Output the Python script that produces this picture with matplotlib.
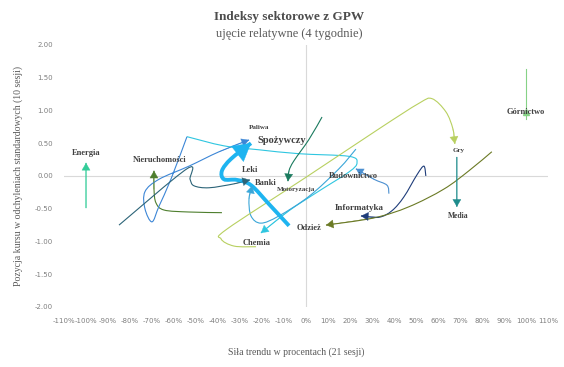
import matplotlib
matplotlib.use("Agg")
import matplotlib.pyplot as plt
from matplotlib.path import Path
from matplotlib.patches import PathPatch
from matplotlib.ticker import FuncFormatter

# --- dane (x: siła trendu w %, y: pozycja w odchyleniach std.) ---
energia_x = [-100, -100]
energia_y = [-0.49, 0.20]

nieruch_x = [-38.2, -53.2, -64.5, -68.2, -69.1, -69.1]
nieruch_y = [-0.56, -0.55, -0.52, -0.41, -0.20, 0.08]

paliwa_x = [-54.1, -61.4, -66.8, -70.0, -73.2, -73.2, -66.8, -53.2, -39.5, -25.9]
paliwa_y = [0.60, -0.05, -0.46, -0.70, -0.50, -0.24, -0.05, 0.15, 0.37, 0.55]

chemia_x = [-54.1, -37.3, -21.4, -3.2, 19.5, 23.2, 19.5, 5.9, -7.7, -20.5]
chemia_y = [0.60, 0.46, 0.40, 0.34, 0.30, 0.20, 0.06, -0.23, -0.53, -0.87]

banki_x = [22.7, 15.0, 1.4, -12.3, -20.5, -25.0, -25.9, -24.5]
banki_y = [0.41, 0.11, -0.31, -0.61, -0.72, -0.61, -0.35, -0.15]

spoz_x = [-7.7, -16.8, -25.0, -31.4, -37.3, -38.2, -34.1, -25.0]
spoz_y = [-0.76, -0.43, -0.14, -0.06, -0.05, 0.08, 0.26, 0.50]

leki_x = [-85.0, -54.1, -52.7, -50.9, -44.1, -32.7, -25.5]
leki_y = [-0.75, 0.11, -0.05, -0.15, -0.18, -0.12, -0.06]

motor_x = [7.3, 1.4, -5.5, -7.7, -8.2]
motor_y = [0.90, 0.56, 0.23, 0.08, -0.08]

budow_x = [37.7, 36.8, 30.9, 22.7]
budow_y = [-0.27, -0.14, -0.05, 0.11]

infor_x = [54.5, 53.6, 50.5, 44.5, 39.1, 33.2, 25.0]
infor_y = [0.00, 0.15, 0.02, -0.32, -0.53, -0.63, -0.61]

odziez_x = [84.5, 74.1, 62.7, 46.8, 30.9, 9.1]
odziez_y = [0.37, 0.08, -0.20, -0.47, -0.64, -0.75]

gry_x = [-22.7, -32.7, -38.6, -35.9, 0.0, 33.2, 51.4, 57.3, 63.6, 66.8, 67.7]
gry_y = [-1.08, -1.07, -0.96, -0.81, -0.02, 0.72, 1.11, 1.18, 0.98, 0.72, 0.49]

media_x = [68.6, 68.6]
media_y = [0.29, -0.47]

gornictwo_x = [100, 100]
gornictwo_y = [1.63, 0.87]

# nazwa, x, y, kolor, grubość linii, przesunięcie etykiety (pt), rozmiar, wyrównanie
serie = [
    ("Energia", energia_x, energia_y, "#33CC99", 0.8, (0, 7), 6, "center"),
    ("Nieruchomości", nieruch_x, nieruch_y, "#4E7F2E", 0.8, (4, 8), 6, "center"),
    ("Paliwa", paliwa_x, paliwa_y, "#3C86D6", 0.8, (7, 9), 5, "center"),
    ("Chemia", chemia_x, chemia_y, "#2FC6E0", 0.8, (-3, -7), 6, "center"),
    ("Banki", banki_x, banki_y, "#3AA6D8", 0.8, (10, 2), 6, "center"),
    ("Leki", leki_x, leki_y, "#2C6478", 0.8, (0, 7), 6, "center"),
    ("Motoryzacja", motor_x, motor_y, "#1A7A5E", 0.8, (6, -6), 5, "center"),
    ("Budownictwo", budow_x, budow_y, "#4B8FD0", 0.8, (-2, -5), 6, "center"),
    ("Informatyka", infor_x, infor_y, "#1F3D7A", 0.8, (-1, 6), 6.5, "center"),
    ("Odzież", odziez_x, odziez_y, "#6B7A25", 0.8, (-12, -2), 6, "center"),
    ("Gry", gry_x, gry_y, "#B8D060", 0.8, (3, -5), 5, "center"),
    ("Media", media_x, media_y, "#1E8C8C", 0.8, (1, -7), 5.5, "center"),
    ("Spożywczy", spoz_x, spoz_y, "#1EB4F0", 2.8, (5, 2), 7.5, "left"),
]


def gladka(x, y):
    # wygładzona linia jak w Excelu (Catmull-Rom -> Bezier)
    pts = list(zip(x, y))
    verts = [pts[0]]
    codes = [Path.MOVETO]
    n = len(pts)
    for i in range(n - 1):
        p0 = pts[max(i - 1, 0)]
        p1 = pts[i]
        p2 = pts[i + 1]
        p3 = pts[min(i + 2, n - 1)]
        c1 = (p1[0] + (p2[0] - p0[0]) / 6, p1[1] + (p2[1] - p0[1]) / 6)
        c2 = (p2[0] - (p3[0] - p1[0]) / 6, p2[1] - (p3[1] - p1[1]) / 6)
        verts += [c1, c2, p2]
        codes += [Path.CURVE4] * 3
    return Path(verts, codes)


fig = plt.figure(figsize=(5.64, 3.67), dpi=100)
ax = fig.add_axes([0.1135, 0.1635, 0.858, 0.714])

ax.axhline(0, color="#D9D9D9", lw=0.8, zorder=0)
ax.axvline(0, color="#D9D9D9", lw=0.8, zorder=0)

for nazwa, x, y, kolor, lw, off, fs, ha in serie:
    ax.add_patch(PathPatch(gladka(x, y), facecolor="none", edgecolor=kolor,
                           lw=lw, capstyle="butt", zorder=2))
    ms = 22 if lw > 2 else 9
    ax.annotate("", xy=(x[-1], y[-1]), xytext=(x[-2], y[-2]),
                arrowprops=dict(arrowstyle="-|>,head_length=0.55,head_width=0.32",
                                color=kolor, lw=0.3, mutation_scale=ms,
                                shrinkA=0, shrinkB=0),
                zorder=3)
    ax.annotate(nazwa, (x[-1], y[-1]), xytext=off, textcoords="offset points",
                ha=ha, va="center", fontsize=fs, fontweight="bold",
                family="Liberation Serif", color="#404040", zorder=4)

# Górnictwo - strzałka w górę na końcu
ax.plot(gornictwo_x, gornictwo_y, color="#86D286", lw=0.8, zorder=2)
ax.plot(gornictwo_x[-1], gornictwo_y[-1] + 0.1, marker="^", ms=5,
        color="#86D286", zorder=3)
ax.annotate("Górnictwo", (gornictwo_x[-1], gornictwo_y[-1] + 0.1),
            ha="center", va="center", fontsize=6, fontweight="bold",
            family="Liberation Serif", color="#404040", zorder=4)

ax.set_xlim(-110, 110)
ax.set_ylim(-2, 2)
ax.set_xticks(range(-110, 111, 10))
ax.set_yticks([-2, -1.5, -1, -0.5, 0, 0.5, 1, 1.5, 2])
ax.xaxis.set_major_formatter(FuncFormatter(lambda v, p: f"{v:.0f}%"))
ax.yaxis.set_major_formatter(FuncFormatter(lambda v, p: f"{v:.2f}"))
ax.tick_params(length=0, labelsize=5, labelcolor="#7F7F7F", pad=8)
for s in ax.spines.values():
    s.set_visible(False)

fig.text(0.512, 0.953, "Indeksy sektorowe z GPW", ha="center", va="center",
         fontsize=9.5, fontweight="bold", family="Liberation Serif", color="#4D4D4D")
fig.text(0.512, 0.907, "ujęcie relatywne (4 tygodnie)", ha="center", va="center",
         fontsize=9, family="Liberation Serif", color="#595959")
fig.text(0.525, 0.04, "Siła trendu w procentach (21 sesji)", ha="center", va="center",
         fontsize=7, family="Liberation Serif", color="#595959")
fig.text(0.032, 0.52, "Pozycja kursu w odchyleniach standardowych (10 sesji)",
         ha="center", va="center", rotation=90, fontsize=7,
         family="Liberation Serif", color="#595959")

fig.savefig("out.png", dpi=100)
